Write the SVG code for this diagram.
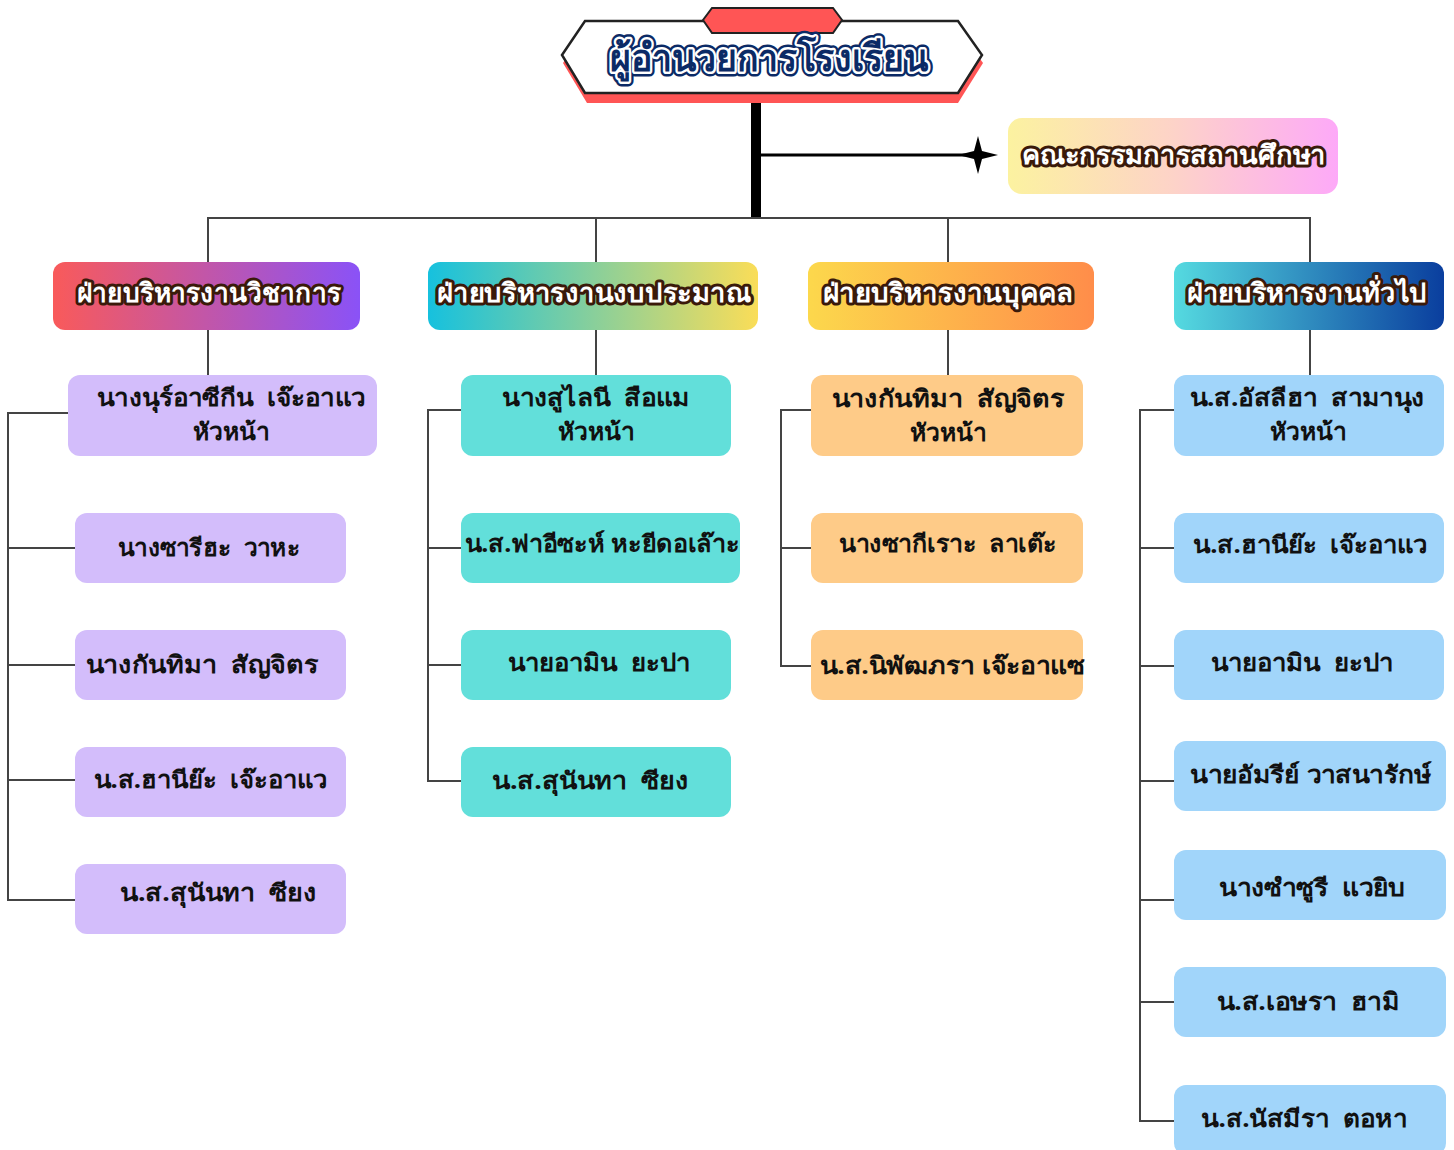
<svg xmlns="http://www.w3.org/2000/svg" width="1454" height="1150" viewBox="0 0 1454 1150">
<style>
.t{font-family:"Noto Sans","DejaVu Sans",sans-serif;font-weight:bold;text-anchor:middle;white-space:pre;}
.name{font-size:24px;fill:#111;}
.hdr{font-size:26px;fill:#fff;stroke:#3a1a0a;stroke-width:6;paint-order:stroke;stroke-linejoin:round;}
.ln{stroke:#444;stroke-width:2;fill:none;}
.c1{fill:#D3BDFB;}
.c2{fill:#62DFDA;}
.c3{fill:#FECB88;}
.c4{fill:#A1D5FA;}
</style>
<defs>
<linearGradient id="g0" x1="0" x2="1" y1="0" y2="0"><stop offset="0" stop-color="#FCF2A0"/><stop offset="0.5" stop-color="#FDD3C8"/><stop offset="1" stop-color="#FDA9F8"/></linearGradient>
<linearGradient id="g1" x1="0" x2="1" y1="0" y2="0"><stop offset="0" stop-color="#F95A5A"/><stop offset="1" stop-color="#8A52F7"/></linearGradient>
<linearGradient id="g2" x1="0" x2="1" y1="0" y2="0"><stop offset="0" stop-color="#16C1DE"/><stop offset="1" stop-color="#FADD58"/></linearGradient>
<linearGradient id="g3" x1="0" x2="1" y1="0" y2="0"><stop offset="0" stop-color="#FCD84C"/><stop offset="1" stop-color="#FF8D4A"/></linearGradient>
<linearGradient id="g4" x1="0" x2="1" y1="0" y2="0"><stop offset="0" stop-color="#55DAE0"/><stop offset="1" stop-color="#0A3E9E"/></linearGradient>
</defs>
<rect width="1454" height="1150" fill="#fff"/>

<g id="connectors">
<line x1="756" y1="100" x2="756" y2="218" stroke="#000" stroke-width="10"/>
<line x1="752" y1="155" x2="975" y2="155" stroke="#000" stroke-width="3"/>
<path d="M978 136 L982 151 L998 155 L982 159 L978 174 L974 159 L958 155 L974 151 Z" fill="#000"/>
<path class="ln" d="M208 262 V218 H1310 V262 M596 218 V262 M948 218 V262"/>
<path class="ln" d="M208 330 V375 M596 330 V375 M948 330 V375 M1310 330 V375"/>
<path class="ln" d="M68 413 H8 V900 H75 M8 548 H75 M8 665 H75 M8 780 H75"/>
<path class="ln" d="M461 410 H428 V781 H461 M428 548 H461 M428 665 H461"/>
<path class="ln" d="M811 410 H781 V666 H811 M781 548 H811"/>
<path class="ln" d="M1174 410 H1140 V1121 H1174 M1140 548 H1174 M1140 666 H1174 M1140 781 H1174 M1140 900 H1174 M1140 1002 H1174"/>
</g>

<g id="director">
<path d="M563 63 L587 28 L958 28 L983 63 L958 103 L587 103 Z" fill="#FF5555"/>
<path d="M562 55 L585 21 L958 21 L982 55 L958 93 L585 93 Z" fill="#fff" stroke="#222" stroke-width="2.5"/>
<path d="M703 20 L712 8 L833 8 L842 20 L833 33 L712 33 Z" fill="#FF5555" stroke="#222" stroke-width="2"/>
<text class="t" x="769" y="71" font-size="38" fill="none" stroke="#0B2A66" stroke-width="10" stroke-linejoin="round" textLength="318" lengthAdjust="spacingAndGlyphs">ผู้อำนวยการโรงเรียน</text>
<text class="t" x="769" y="71" font-size="38" fill="#0B2A66" stroke="#fff" stroke-width="5" paint-order="stroke" stroke-linejoin="round" textLength="318" lengthAdjust="spacingAndGlyphs">ผู้อำนวยการโรงเรียน</text>
</g>

<g id="committee">
<rect x="1008" y="118" width="330" height="76" rx="14" fill="url(#g0)"/>
<text class="t hdr" x="1174" y="164" textLength="304" lengthAdjust="spacingAndGlyphs">คณะกรรมการสถานศึกษา</text>
</g>

<g id="h1"><rect x="53" y="262" width="307" height="68" rx="12" fill="url(#g1)"/><text class="t hdr" x="209" y="302" textLength="264" lengthAdjust="spacingAndGlyphs">ฝ่ายบริหารงานวิชาการ</text></g>
<g id="h2"><rect x="428" y="262" width="330" height="68" rx="12" fill="url(#g2)"/><text class="t hdr" x="594" y="302" textLength="314" lengthAdjust="spacingAndGlyphs">ฝ่ายบริหารงานงบประมาณ</text></g>
<g id="h3"><rect x="808" y="262" width="286" height="68" rx="12" fill="url(#g3)"/><text class="t hdr" x="948" y="302" textLength="250" lengthAdjust="spacingAndGlyphs">ฝ่ายบริหารงานบุคคล</text></g>
<g id="h4"><rect x="1174" y="262" width="270" height="68" rx="12" fill="url(#g4)"/><text class="t hdr" x="1307" y="302" textLength="240" lengthAdjust="spacingAndGlyphs">ฝ่ายบริหารงานทั่วไป</text></g>

<g id="a0"><rect class="c1" x="68" y="375" width="309" height="81" rx="12"/><text class="t name" x="231" y="406" textLength="268" lengthAdjust="spacingAndGlyphs">นางนุร์อาซีกีน  เจ๊ะอาแว</text><text class="t name" x="231" y="440" textLength="76" lengthAdjust="spacingAndGlyphs">หัวหน้า</text></g>
<g id="a1"><rect class="c1" x="75" y="513" width="271" height="70" rx="12"/><text class="t name" x="209" y="556" textLength="182" lengthAdjust="spacingAndGlyphs">นางซารีฮะ  วาหะ</text></g>
<g id="a2"><rect class="c1" x="75" y="630" width="271" height="70" rx="12"/><text class="t name" x="202" y="673" textLength="233" lengthAdjust="spacingAndGlyphs">นางกันทิมา  สัญจิตร</text></g>
<g id="a3"><rect class="c1" x="75" y="747" width="271" height="70" rx="12"/><text class="t name" x="210" y="788" textLength="233" lengthAdjust="spacingAndGlyphs">น.ส.ฮานีย๊ะ  เจ๊ะอาแว</text></g>
<g id="a4"><rect class="c1" x="75" y="864" width="271" height="70" rx="12"/><text class="t name" x="218" y="901" textLength="196" lengthAdjust="spacingAndGlyphs">น.ส.สุนันทา  ซียง</text></g>

<g id="b0"><rect class="c2" x="461" y="375" width="270" height="81" rx="12"/><text class="t name" x="596" y="406" textLength="188" lengthAdjust="spacingAndGlyphs">นางสูไลนี  สือแม</text><text class="t name" x="596" y="440" textLength="76" lengthAdjust="spacingAndGlyphs">หัวหน้า</text></g>
<g id="b1"><rect class="c2" x="461" y="513" width="279" height="70" rx="12"/><text class="t name" x="602" y="552" textLength="275" lengthAdjust="spacingAndGlyphs">น.ส.ฟาอีซะห์ หะยีดอเล๊าะ</text></g>
<g id="b2"><rect class="c2" x="461" y="630" width="270" height="70" rx="12"/><text class="t name" x="599" y="671" textLength="182" lengthAdjust="spacingAndGlyphs">นายอามิน  ยะปา</text></g>
<g id="b3"><rect class="c2" x="461" y="747" width="270" height="70" rx="12"/><text class="t name" x="590" y="789" textLength="196" lengthAdjust="spacingAndGlyphs">น.ส.สุนันทา  ซียง</text></g>

<g id="c0"><rect class="c3" x="811" y="375" width="272" height="81" rx="12"/><text class="t name" x="948" y="407" textLength="233" lengthAdjust="spacingAndGlyphs">นางกันทิมา  สัญจิตร</text><text class="t name" x="948" y="441" textLength="76" lengthAdjust="spacingAndGlyphs">หัวหน้า</text></g>
<g id="c1"><rect class="c3" x="811" y="513" width="272" height="70" rx="12"/><text class="t name" x="948" y="552" textLength="218" lengthAdjust="spacingAndGlyphs">นางซากีเราะ  ลาเต๊ะ</text></g>
<g id="c2"><rect class="c3" x="811" y="630" width="272" height="70" rx="12"/><text class="t name" x="952" y="674" textLength="265" lengthAdjust="spacingAndGlyphs">น.ส.นิพัฒภรา เจ๊ะอาแซ</text></g>

<g id="d0"><rect class="c4" x="1174" y="375" width="270" height="81" rx="12"/><text class="t name" x="1307" y="406" textLength="235" lengthAdjust="spacingAndGlyphs">น.ส.อัสลีฮา  สามานุง</text><text class="t name" x="1308" y="440" textLength="76" lengthAdjust="spacingAndGlyphs">หัวหน้า</text></g>
<g id="d1"><rect class="c4" x="1174" y="513" width="270" height="70" rx="12"/><text class="t name" x="1310" y="553" textLength="234" lengthAdjust="spacingAndGlyphs">น.ส.ฮานีย๊ะ  เจ๊ะอาแว</text></g>
<g id="d2"><rect class="c4" x="1174" y="630" width="270" height="70" rx="12"/><text class="t name" x="1302" y="671" textLength="182" lengthAdjust="spacingAndGlyphs">นายอามิน  ยะปา</text></g>
<g id="d3"><rect class="c4" x="1174" y="741" width="272" height="70" rx="12"/><text class="t name" x="1311" y="783" textLength="242" lengthAdjust="spacingAndGlyphs">นายอัมรีย์ วาสนารักษ์</text></g>
<g id="d4"><rect class="c4" x="1174" y="850" width="272" height="70" rx="12"/><text class="t name" x="1312" y="896" textLength="186" lengthAdjust="spacingAndGlyphs">นางซำซูรี  แวยิบ</text></g>
<g id="d5"><rect class="c4" x="1174" y="967" width="272" height="70" rx="12"/><text class="t name" x="1308" y="1010" textLength="183" lengthAdjust="spacingAndGlyphs">น.ส.เอษรา  ฮามิ</text></g>
<g id="d6"><rect class="c4" x="1174" y="1085" width="272" height="70" rx="12"/><text class="t name" x="1304" y="1127" textLength="206" lengthAdjust="spacingAndGlyphs">น.ส.นัสมีรา  ตอหา</text></g>
</svg>
